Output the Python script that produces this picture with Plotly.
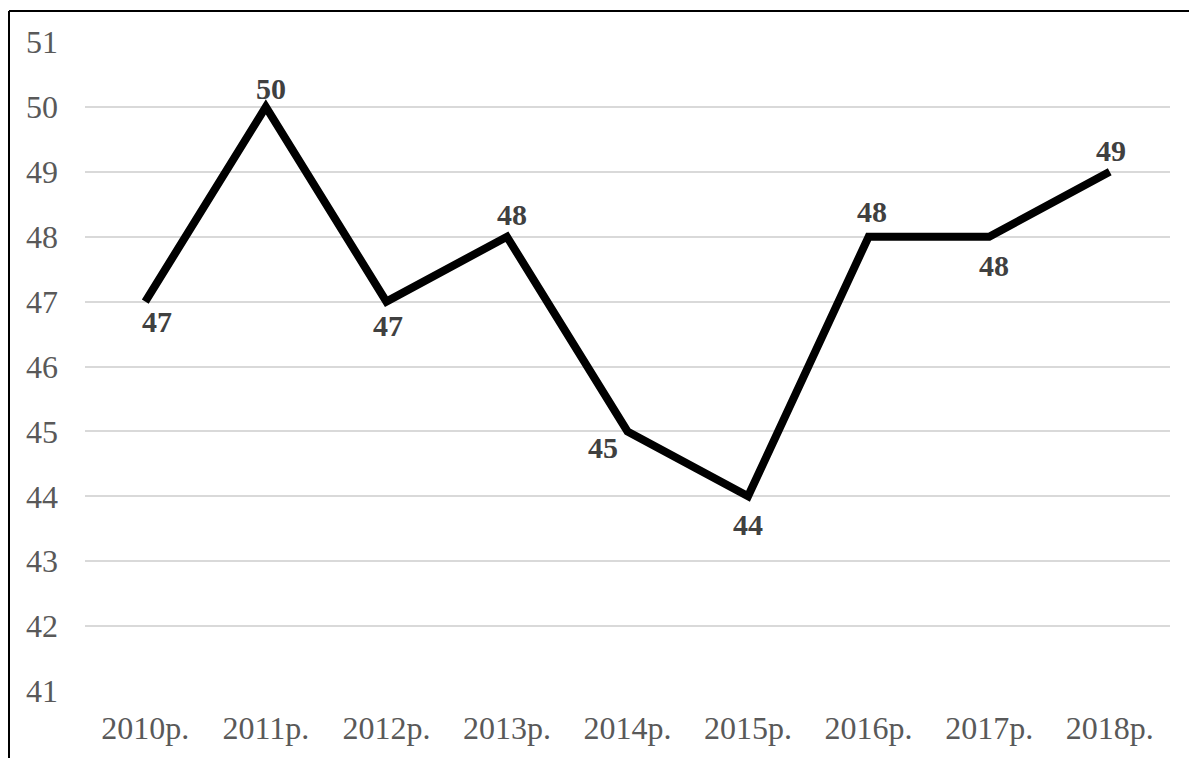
import plotly.graph_objects as go

years = ["2010р.", "2011р.", "2012р.", "2013р.", "2014р.", "2015р.", "2016р.", "2017р.", "2018р."]
values = [47, 50, 47, 48, 45, 44, 48, 48, 49]
y_ticks = [41, 42, 43, 44, 45, 46, 47, 48, 49, 50, 51]

# label offsets (pixels, style only): right / down from point
label_dx = [12, 5, 2, 5, -25, 0, 3, 5, 1]
label_dy = [21, -17, 25, -21, 17, 29, -24, 30, -20]

W, H = 1189, 758
ml, mr, mt, mb = 85, 19, 42, 67
pw, ph = W - ml - mr, H - mt - mb

fig = go.Figure()
fig.add_trace(go.Scatter(
    x=years, y=values, mode="lines",
    line=dict(color="black", width=8),
    hoverinfo="skip",
))

for xv, yv, dx, dy in zip(years, values, label_dx, label_dy):
    fig.add_annotation(
        x=xv, y=yv, text=str(yv), showarrow=False,
        xanchor="center", yanchor="middle",
        xshift=dx, yshift=-(dy - 1),
        font=dict(family="Liberation Serif", size=30, color="#404040", weight="bold"),
    )

fig.update_layout(
    width=W, height=H,
    margin=dict(l=ml, r=mr, t=mt, b=mb),
    paper_bgcolor="white", plot_bgcolor="white",
    showlegend=False,
    xaxis=dict(range=[-0.5, 8.5], showgrid=False, zeroline=False, showline=False,
               ticks="", tickfont=dict(family="Liberation Serif", size=32, color="#595959"),
               ticklabelstandoff=15),
    yaxis=dict(range=[41, 51], tickvals=y_ticks, showgrid=True, gridcolor="#d9d9d9", gridwidth=2,
               zeroline=False, showline=False, ticks="",
               tickfont=dict(family="Liberation Serif", size=32, color="#595959"),
               ticklabelstandoff=26),
)

# outer border (left and top edges)
x_left = (9 - ml) / pw
x_right = (W + 5 - ml) / pw
y_top = 1 + (mt - 11) / ph
y_bottom = -(mb + 5) / ph
fig.add_shape(type="line", xref="paper", yref="paper", x0=x_left, x1=x_left, y0=y_bottom, y1=y_top,
              line=dict(color="black", width=2))
fig.add_shape(type="line", xref="paper", yref="paper", x0=x_left, x1=x_right, y0=y_top, y1=y_top,
              line=dict(color="black", width=2))

fig.write_html("out.html", config={"displayModeBar": False},
               post_script="document.body.style.margin='0';document.body.style.overflow='hidden';")
